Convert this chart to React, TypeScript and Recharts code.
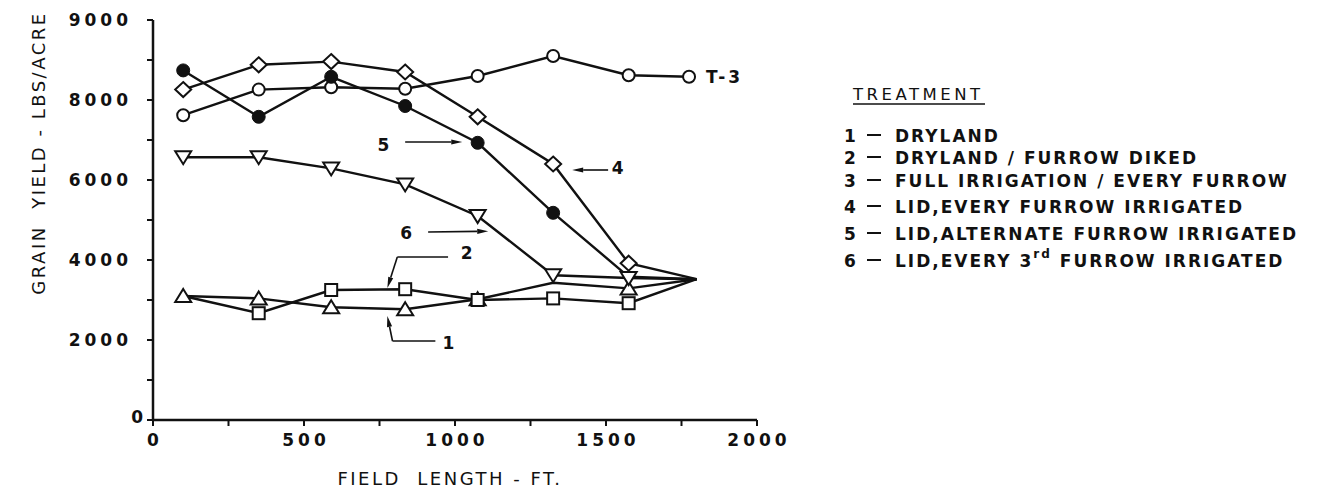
import React from 'react';
import {
  LineChart,
  Line,
  XAxis,
  YAxis,
  ReferenceLine,
  ReferenceDot,
  Label,
  LabelList,
} from 'recharts';

// field-length stations (ft)
const FIELD_FT = [100, 350, 590, 835, 1075, 1325, 1575, 1800];
const T3_FT = [100, 350, 590, 835, 1075, 1325, 1575, 1775];

// grain yield, lbs/acre, one value per station
const DRYLAND = [3100, 3040, 2820, 2770, 3020, 3430, 3290, 3520];
const DRYLAND_DIKED = [3100, 2670, 3250, 3270, 3000, 3040, 2920, 3520];
const FULL_IRRIGATION = [7620, 8130, 8160, 8140, 8300, 8550, 8310, 8290];
const LID_EVERY = [8130, 8440, 8480, 8350, 7580, 6400, 3920, 3520];
const LID_ALTERNATE = [8370, 7580, 8290, 7850, 6930, 5180, 3580, 3520];
const LID_THIRD = [6570, 6570, 6290, 5890, 5100, 3620, 3550, 3520];

const X_TICKS = [0, 250, 500, 750, 1000, 1250, 1500, 1750, 2000];
const X_LABELS = [0, 500, 1000, 1500, 2000];
const Y_TICKS = [0, 1000, 2000, 3000, 4000, 5000, 6000, 7000, 8000, 8500, 9000];
const Y_LABELS = [0, 2000, 4000, 6000, 8000, 9000];

const TREATMENTS = [
  'DRYLAND',
  'DRYLAND / FURROW DIKED',
  'FULL IRRIGATION / EVERY FURROW',
  'LID,EVERY FURROW IRRIGATED',
  'LID,ALTERNATE FURROW IRRIGATED',
  'LID,EVERY 3rd FURROW IRRIGATED',
];
const LEGEND_ROW_Y = [128, 150, 173, 199, 226, 253];

// callout numbers and their leader lines, in chart units (ft, lbs/acre)
const CALLOUTS = [
  { text: '5', ft: 770, yld: 6880 },
  { text: '4', ft: 1545, yld: 6300 },
  { text: '6', ft: 845, yld: 4680 },
  { text: '2', ft: 1045, yld: 4180 },
  { text: '1', ft: 985, yld: 1930 },
];
const LEADERS = [
  { from: [835, 6950], to: [1024, 6950], head: true },
  { from: [1507, 6250], to: [1388, 6250], head: true },
  { from: [911, 4700], to: [1110, 4720], head: true },
  { from: [977, 4075], to: [809, 4075], head: false },
  { from: [809, 4075], to: [776, 3300], head: true },
  { from: [935, 1975], to: [793, 1975], head: false },
  { from: [793, 1975], to: [776, 2600], head: true },
];

const INK = '#111';
const FONT = '"DejaVu Sans", Verdana, sans-serif';
const tickFont = { fontFamily: FONT, fontSize: 17, fontWeight: 700, letterSpacing: 4, fill: INK };
const titleFont = { fontFamily: FONT, fontSize: 18, letterSpacing: 2.5, fill: INK, whiteSpace: 'pre' as const };
const legendFont = { fontFamily: FONT, fontSize: 17, fontWeight: 700, letterSpacing: 2, fill: INK };

// Yield axis: even spacing up to 8000, the 8000–9000 band drawn at double height.
const BREAK = 8000;
const STRETCH = 2;
const toUnits = (v: number) => (v <= BREAK ? v : BREAK + (v - BREAK) * STRETCH);
const fromUnits = (u: number) => (u <= BREAK ? u : BREAK + (u - BREAK) / STRETCH);

function yieldScale(dom: number[] = [0, 9000], rng: number[] = [0, 1]): any {
  let d = dom.slice();
  let r = rng.slice();
  const s: any = (v: number) => {
    const u0 = toUnits(d[0]);
    const u1 = toUnits(d[d.length - 1]);
    return r[0] + ((toUnits(v) - u0) / (u1 - u0)) * (r[r.length - 1] - r[0]);
  };
  s.domain = (x?: number[]) => {
    if (x === undefined) return d.slice();
    d = x.slice();
    return s;
  };
  s.range = (x?: number[]) => {
    if (x === undefined) return r.slice();
    r = x.slice();
    return s;
  };
  s.invert = (p: number) => {
    const u0 = toUnits(d[0]);
    const u1 = toUnits(d[d.length - 1]);
    return fromUnits(u0 + ((p - r[0]) / (r[r.length - 1] - r[0])) * (u1 - u0));
  };
  s.ticks = () => Y_TICKS.slice();
  s.tickFormat = () => (v: number) => String(v);
  s.copy = () => yieldScale(d, r);
  return s;
}
const Y_SCALE = yieldScale();

function marker(kind: string, skip: number[]) {
  return (p: any) => {
    const { cx, cy, index } = p;
    const k = `${kind}-${index}`;
    if (skip.includes(index) || cx == null || cy == null) return <g key={k} />;
    const s = { stroke: INK, strokeWidth: 2, fill: '#fff' };
    switch (kind) {
      case 'circle':
        return <circle key={k} cx={cx} cy={cy} r={6} {...s} />;
      case 'disc':
        return <circle key={k} cx={cx} cy={cy} r={6.5} fill={INK} stroke={INK} />;
      case 'square':
        return <rect key={k} x={cx - 6} y={cy - 6} width={12} height={12} {...s} />;
      case 'diamond':
        return <polygon key={k} points={`${cx},${cy - 7.5} ${cx + 8},${cy} ${cx},${cy + 7.5} ${cx - 8},${cy}`} {...s} />;
      case 'up':
        return <polygon key={k} points={`${cx},${cy - 7} ${cx + 8},${cy + 6} ${cx - 8},${cy + 6}`} {...s} />;
      case 'down':
        return <polygon key={k} points={`${cx - 8},${cy - 6} ${cx + 8},${cy - 6} ${cx},${cy + 7}`} {...s} />;
      default:
        return <g key={k} />;
    }
  };
}

const leader = (head: boolean) => (p: any) => {
  const { x1, y1, x2, y2 } = p;
  if ([x1, y1, x2, y2].some((v) => v == null || Number.isNaN(v))) return <g />;
  const len = Math.hypot(x2 - x1, y2 - y1) || 1;
  const ux = (x2 - x1) / len;
  const uy = (y2 - y1) / len;
  const bx = x2 - ux * 11;
  const by = y2 - uy * 11;
  return (
    <g>
      <line x1={x1} y1={y1} x2={head ? bx : x2} y2={head ? by : y2} stroke={INK} strokeWidth={1.6} />
      {head && (
        <polygon points={`${x2},${y2} ${bx - uy * 2.6},${by + ux * 2.6} ${bx + uy * 2.6},${by - ux * 2.6}`} fill={INK} />
      )}
    </g>
  );
};

const YTick = (p: any) => {
  const { x, y, payload } = p;
  const v = payload.value;
  if (!Y_LABELS.includes(v)) return <g />;
  return (
    <text x={v === 0 ? x + 15 : x} y={v === 0 ? y - 3 : y} dy="0.36em" textAnchor="end" style={tickFont}>
      {v}
    </text>
  );
};

const XTick = (p: any) => {
  const { x, y, payload } = p;
  if (!X_LABELS.includes(payload.value)) return <g />;
  return (
    <text x={x + 2} y={y} dy="0.71em" textAnchor="middle" style={tickFont}>
      {payload.value}
    </text>
  );
};

const yTitle = (p: any) => {
  const vb = p.viewBox;
  const cx = vb.x + 30;
  const cy = vb.y + 133;
  return (
    <text x={cx} y={cy} transform={`rotate(-90 ${cx} ${cy})`} textAnchor="middle" dominantBaseline="central" style={titleFont}>
      {'GRAIN  YIELD - LBS/ACRE'}
    </text>
  );
};

const xTitle = (p: any) => {
  const vb = p.viewBox;
  return (
    <text x={vb.x + vb.width / 2 - 5} y={vb.y + 58} textAnchor="middle" dominantBaseline="central" style={titleFont}>
      {'FIELD  LENGTH - FT.'}
    </text>
  );
};

const t3Label = (p: any) => {
  const { x, y, index } = p;
  if (index !== T3_FT.length - 1) return null;
  return (
    <text x={x + 17} y={y} dominantBaseline="central" style={{ ...tickFont, letterSpacing: 3 }}>
      T-3
    </text>
  );
};

const pairs = (xs: number[], ys: number[]) => xs.map((ft, i) => ({ ft, yld: ys[i] }));

export default function App() {
  const series = [
    { key: 'dryland', data: pairs(FIELD_FT, DRYLAND), dot: marker('up', [5, 7]) },
    { key: 'diked', data: pairs(FIELD_FT, DRYLAND_DIKED), dot: marker('square', [0, 7]) },
    { key: 'full', data: pairs(T3_FT, FULL_IRRIGATION), dot: marker('circle', []) },
    { key: 'lidEvery', data: pairs(FIELD_FT, LID_EVERY), dot: marker('diamond', [7]) },
    { key: 'lidAlt', data: pairs(FIELD_FT, LID_ALTERNATE), dot: marker('disc', [6, 7]) },
    { key: 'lidThird', data: pairs(FIELD_FT, LID_THIRD), dot: marker('down', [7]) },
  ];

  return (
    <div style={{ position: 'relative', width: 1307, height: 484, background: '#fff' }}>
      <LineChart width={810} height={484} margin={{ top: 12, right: 61, bottom: 0, left: 0 }}>
        <XAxis
          type="number"
          dataKey="ft"
          domain={[0, 2000]}
          ticks={X_TICKS}
          interval={0}
          height={72}
          axisLine={{ stroke: INK, strokeWidth: 2.5 }}
          tickLine={{ stroke: INK, strokeWidth: 2 }}
          tickSize={6}
          tickMargin={8}
          tick={XTick}
          allowDuplicatedCategory={false}
        >
          <Label content={xTitle} />
        </XAxis>
        <YAxis
          type="number"
          dataKey="yld"
          domain={[0, 9000]}
          scale={Y_SCALE}
          ticks={Y_TICKS}
          interval={0}
          width={145}
          axisLine={{ stroke: INK, strokeWidth: 2.5 }}
          tickLine={{ stroke: INK, strokeWidth: 2 }}
          tickSize={6}
          tickMargin={15}
          tick={YTick}
        >
          <Label content={yTitle} />
        </YAxis>

        {series.map((s) => (
          <Line
            key={s.key}
            data={s.data}
            dataKey="yld"
            type="linear"
            stroke={INK}
            strokeWidth={2.4}
            dot={s.dot}
            activeDot={false}
            isAnimationActive={false}
          >
            {s.key === 'full' && <LabelList dataKey="yld" content={t3Label} />}
          </Line>
        ))}

        {LEADERS.map((l, i) => (
          <ReferenceLine
            key={`leader-${i}`}
            segment={[
              { x: l.from[0], y: l.from[1] },
              { x: l.to[0], y: l.to[1] },
            ]}
            shape={leader(l.head)}
          />
        ))}
        {CALLOUTS.map((c) => (
          <ReferenceDot
            key={`callout-${c.text}`}
            x={c.ft}
            y={c.yld}
            r={0}
            shape={(p: any) => (
              <text x={p.cx} y={p.cy} textAnchor="middle" dominantBaseline="central" style={tickFont}>
                {c.text}
              </text>
            )}
          />
        ))}
      </LineChart>

      <svg width={1307} height={484} style={{ position: 'absolute', left: 0, top: 0, pointerEvents: 'none' }}>
        <text x={845} y={86} dominantBaseline="central" style={{ fontFamily: FONT, fontSize: 16.5, letterSpacing: 3.5, fill: INK }}>
          TREATMENT
        </text>
        <line x1={845} y1={96} x2={977} y2={96} stroke={INK} strokeWidth={1.5} />
        {TREATMENTS.map((t, i) => {
          const y = LEGEND_ROW_Y[i];
          const parts = t.split('3rd');
          return (
            <g key={t}>
              <text x={843} y={y} textAnchor="middle" dominantBaseline="central" style={legendFont}>
                {i + 1}
              </text>
              <line x1={859} y1={y - 1} x2={873} y2={y - 1} stroke={INK} strokeWidth={2} />
              <text x={887} y={y} dominantBaseline="central" style={legendFont}>
                {parts.length > 1 ? (
                  <>
                    {parts[0]}3
                    <tspan dy={-7} fontSize={12}>rd</tspan>
                    <tspan dy={7}>{parts[1]}</tspan>
                  </>
                ) : (
                  t
                )}
              </text>
            </g>
          );
        })}
      </svg>
    </div>
  );
}
